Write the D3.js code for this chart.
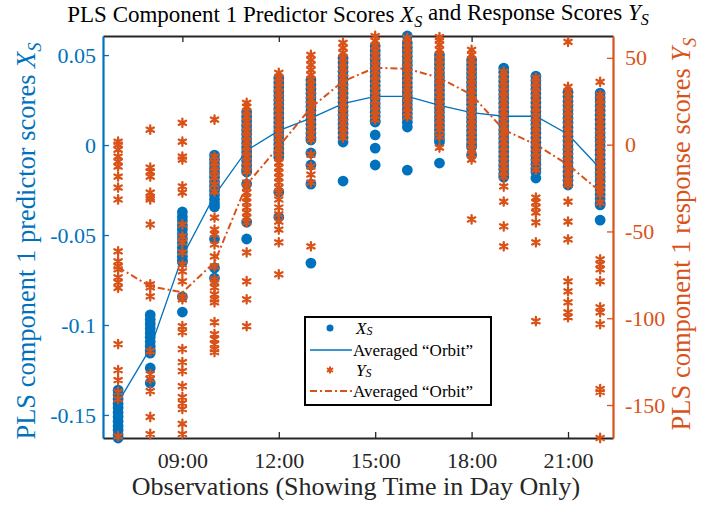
<!DOCTYPE html>
<html>
<head>
<meta charset="utf-8">
<script src="https://cdn.jsdelivr.net/npm/d3@7"></script>
<style>
  body { margin: 0; background: #fff; }
  svg { display: block; }
</style>
</head>
<body>
<svg id="chart" width="705" height="506"></svg>
<script>
// Hour of day for every group of observations
const hours = [7, 8, 9, 10, 11, 12, 13, 14, 15, 16, 17, 18, 19, 20, 21, 22];
const timeTicks = [9, 12, 15, 18, 21];
const leftTicks = [-0.15, -0.1, -0.05, 0, 0.05];
const leftTickLabels = ["-0.15", "-0.1", "-0.05", "0", "0.05"];
const rightTicks = [-150, -100, -50, 0, 50];
const rightTickLabels = ["-150", "-100", "-50", "0", "50"];

// PLS component 1 predictor scores X_S, one list per hour
const predictorScores = [
  [-0.1362, -0.1388, -0.1411, -0.1437, -0.1460, -0.1486, -0.1510, -0.1535, -0.1561, -0.1584, -0.1610, -0.1628],
  [-0.0944, -0.0970, -0.0994, -0.1019, -0.1045, -0.1068, -0.1093, -0.1118, -0.1140, -0.1156, -0.1239, -0.1322],
  [-0.0372, -0.0398, -0.0421, -0.0447, -0.0470, -0.0496, -0.0519, -0.0545, -0.0570, -0.0593, -0.0619, -0.0641, -0.0650, -0.0844, -0.0928],
  [-0.0056, -0.0081, -0.0106, -0.0130, -0.0155, -0.0179, -0.0204, -0.0229, -0.0253, -0.0278, -0.0303, -0.0327, -0.0344, -0.0522, -0.0683, -0.0739],
  [0.0183, 0.0158, 0.0133, 0.0109, 0.0084, 0.0060, 0.0035, 0.0011, -0.0014, -0.0038, -0.0063, -0.0087, -0.0112, -0.0136, -0.0150, -0.0217, -0.0428, -0.0522],
  [0.0372, 0.0347, 0.0323, 0.0298, 0.0274, 0.0249, 0.0225, 0.0200, 0.0176, 0.0151, 0.0127, 0.0102, 0.0078, 0.0053, 0.0029, 0.0004, -0.0021, -0.0045, -0.0067, -0.0261, -0.0400],
  [0.0361, 0.0337, 0.0312, 0.0288, 0.0263, 0.0239, 0.0214, 0.0190, 0.0165, 0.0141, 0.0116, 0.0092, 0.0067, 0.0043, 0.0028, -0.0044, -0.0111, -0.0217, -0.0656],
  [0.0483, 0.0459, 0.0434, 0.0410, 0.0385, 0.0361, 0.0336, 0.0312, 0.0287, 0.0263, 0.0238, 0.0214, 0.0189, 0.0165, 0.0140, 0.0116, 0.0091, 0.0067, 0.0042, 0.0017, -0.0200],
  [0.0550, 0.0525, 0.0501, 0.0476, 0.0452, 0.0427, 0.0403, 0.0378, 0.0354, 0.0329, 0.0305, 0.0280, 0.0256, 0.0231, 0.0207, 0.0182, 0.0158, 0.0133, 0.0128, 0.0056, -0.0017, -0.0111],
  [0.0606, 0.0567, 0.0542, 0.0518, 0.0493, 0.0469, 0.0444, 0.0420, 0.0395, 0.0371, 0.0346, 0.0322, 0.0297, 0.0273, 0.0248, 0.0224, 0.0199, 0.0175, 0.0150, 0.0126, 0.0100, -0.0139],
  [0.0500, 0.0476, 0.0451, 0.0427, 0.0402, 0.0378, 0.0353, 0.0329, 0.0304, 0.0280, 0.0255, 0.0231, 0.0206, 0.0182, 0.0157, 0.0133, 0.0108, 0.0084, 0.0059, 0.0035, 0.0017, -0.0100],
  [0.0472, 0.0447, 0.0423, 0.0398, 0.0374, 0.0349, 0.0325, 0.0300, 0.0276, 0.0251, 0.0227, 0.0202, 0.0178, 0.0153, 0.0129, 0.0104, 0.0080, 0.0055, 0.0031, 0.0006, -0.0011, -0.0056],
  [0.0428, 0.0404, 0.0379, 0.0355, 0.0330, 0.0306, 0.0281, 0.0257, 0.0232, 0.0208, 0.0183, 0.0159, 0.0134, 0.0110, 0.0085, 0.0061, 0.0036, 0.0012, -0.0013, -0.0037, -0.0062, -0.0086, -0.0111, -0.0135, -0.0160, -0.0178],
  [0.0383, 0.0359, 0.0334, 0.0310, 0.0285, 0.0261, 0.0236, 0.0212, 0.0187, 0.0163, 0.0138, 0.0114, 0.0089, 0.0065, 0.0040, 0.0016, -0.0009, -0.0033, -0.0058, -0.0082, -0.0107, -0.0131, -0.0150, -0.0183],
  [0.0294, 0.0270, 0.0245, 0.0221, 0.0196, 0.0172, 0.0147, 0.0123, 0.0098, 0.0074, 0.0049, 0.0025, 0.0000, -0.0024, -0.0049, -0.0073, -0.0098, -0.0122, -0.0147, -0.0171, -0.0196, -0.0222],
  [0.0289, 0.0264, 0.0240, 0.0215, 0.0191, 0.0166, 0.0142, 0.0117, 0.0093, 0.0068, 0.0044, 0.0019, -0.0005, -0.0030, -0.0054, -0.0079, -0.0103, -0.0128, -0.0152, -0.0177, -0.0201, -0.0226, -0.0250, -0.0275, -0.0299, -0.0324, -0.0333, -0.0417]
];

// PLS component 1 response scores Y_S, one list per hour
const responseScores = [
  [1.7, 0, -2.9, -6.9, -9.8, -12.6, -18.4, -24.7, -31.6, -61.5, -67.2, -70.1, -71.8, -76.4, -79.3, -82.5, -114.9, -129.9, -135.6, -142.5, -146.6, -168],
  [8.6, -13.2, -15.5, -18.4, -27.6, -30.5, -31.6, -46.0, -80.5, -82.2, -87.4, -119.0, -132.2, -135.1, -142.0, -156.9, -166.7],
  [12.6, 1.7, -6.9, -8.6, -24.1, -27.6, -46.0, -52.9, -56.3, -62.1, -69.0, -73.0, -78.7, -87.4, -89.1, -104.6, -108.0, -117.8, -125.3, -130.5, -139.1, -145.4, -148.9, -152.3, -160.9, -166.7],
  [14.4, -6.9, -10.3, -12.6, -15.5, -19.0, -23.0, -27.0, -42.0, -48.9, -51.7, -57.5, -64.4, -70.1, -77.6, -79.3, -82.2, -86.2, -89.1, -90.8, -102.3, -109.2, -112.1, -114.9, -117.8, -119.5],
  [24.1, 21.8, 19.0, 16.1, 13.2, 10.3, 7.5, 4.6, 1.7, -1.1, -4.0, -6.9, -9.8, -12.6, -15.5, -21.8, -24.7, -27.6, -30.5, -33.3, -36.2, -39.1, -42.0, -44.8, -62.1, -78.7, -89.1, -104.6],
  [41.4, 38.5, 35.6, 32.8, 29.9, 27.0, 24.1, 21.3, 18.4, 15.5, 12.6, 9.8, 6.9, 4.0, 1.1, -1.7, -4.6, -7.5, -10.3, -13.2, -16.1, -19.0, -21.8, -24.7, -27.6, -31.6, -36.2, -40.2, -44.3, -48.9, -56.3, -74.7],
  [51.7, 48.9, 46.0, 43.1, 40.2, 37.4, 34.5, 31.6, 28.7, 25.9, 23.0, 20.1, 17.2, 14.4, 11.5, 8.6, 5.7, 2.9, -5.7, -12.6, -17.2, -21.8, -58.6],
  [58.6, 55.7, 52.9, 50.0, 47.1, 44.3, 41.4, 38.5, 35.6, 32.8, 29.9, 27.0, 24.1, 21.3, 18.4, 15.5, 12.6, 9.8, 6.9, 4.0],
  [62.6, 59.8, 56.9, 54.0, 51.1, 48.3, 45.4, 42.5, 39.7, 36.8, 33.9, 31.0, 28.2, 25.3, 22.4, 19.5, 16.7, 14.4],
  [61.5, 58.6, 55.7, 52.9, 50.0, 47.1, 44.3, 41.4, 38.5, 35.6, 32.8, 29.9, 27.0, 24.1, 21.3, 18.4, 16.1],
  [62.0, 60.3, 57.5, 54.6, 51.7, 48.9, 46.0, 43.1, 40.2, 37.4, 34.5, 31.6, 28.7, 25.9, 23.0, 20.1, 17.2, 14.4, 11.5, 8.6, 4.6, -1.7],
  [54.6, 51.7, 48.9, 46.0, 43.1, 40.2, 37.4, 34.5, 31.6, 28.7, 25.9, 23.0, 20.1, 17.2, 14.4, 11.5, 8.6, 5.7, 2.9, 0, -2.9, -5.7, -8.6, -43.1],
  [42.0, 39.1, 36.2, 33.3, 30.5, 27.6, 24.7, 21.8, 19.0, 16.1, 13.2, 10.3, 7.5, 4.6, 1.7, -1.1, -4.0, -6.9, -9.8, -12.6, -15.5, -18.4, -24.1, -32.8, -47.1, -58.6],
  [38.5, 35.6, 32.8, 29.9, 27.0, 24.1, 21.3, 18.4, 15.5, 12.6, 9.8, 6.9, 4.0, 1.1, -1.7, -4.6, -7.5, -10.3, -14.4, -30.5, -33.3, -36.2, -39.1, -44.8, -56.3, -101.7],
  [59.2, 33.3, 30.5, 27.6, 24.7, 21.8, 19.0, 16.1, 13.2, 10.3, 7.5, 4.6, 1.7, -1.1, -4.0, -6.9, -9.8, -12.6, -15.5, -18.4, -21.3, -23.0, -32.8, -44.3, -54.6, -78.7, -84.5, -90.8, -96.6, -99.4],
  [36.2, 28.7, 25.9, 23.0, 20.1, 17.2, 14.4, 11.5, 8.6, 5.7, 2.9, 0, -2.9, -5.7, -8.6, -11.5, -14.4, -17.2, -20.1, -23.0, -25.9, -28.7, -33.3, -66.1, -69.0, -71.8, -78.7, -93.7, -96.6, -103.4, -140.8, -142.5, -169]
];

// Averaged "orbit" for each hour
const predictorAverage = [-0.143, -0.113, -0.062, -0.028, -0.003, 0.008, 0.015, 0.023, 0.027, 0.027, 0.022, 0.018, 0.016, 0.016, 0.006, -0.013];
const responseAverage = [-70.7, -81.6, -85.1, -67.8, -23.0, -1.1, 21.3, 36.5, 44.3, 43.7, 38.5, 28.7, 8.6, 0, -11.5, -27.0];

const BLUE = "#0072BD";
const ORANGE = "#D95319";
const INK = "#262626";
const FONT = "'Liberation Serif', 'Times New Roman', serif";

const plot = { left: 103, right: 613, top: 36, bottom: 438 };

const xsPoints = hours.flatMap((h, i) => predictorScores[i].map(v => ({ h, v })));
const ysPoints = hours.flatMap((h, i) => responseScores[i].map(v => ({ h, v })));

const x = d3.scaleLinear().domain([6.53, 22.4]).range([plot.left, plot.right]);
const yLeft = d3.scaleLinear().domain(d3.extent(xsPoints, d => d.v)).range([plot.bottom, plot.top]);
const yRight = d3.scaleLinear().domain(d3.extent(ysPoints, d => d.v)).range([plot.bottom, plot.top]);

const svg = d3.select("#chart");
svg.append("rect").attr("width", 705).attr("height", 506).attr("fill", "#fff");

// ---- axes ----
function styleAxis(g, color, width) {
  g.select(".domain").attr("stroke", color).attr("stroke-width", width);
  g.selectAll(".tick line").attr("stroke", color).attr("stroke-width", 1.3);
  g.selectAll(".tick text").attr("fill", color).style("font-family", FONT).style("font-size", "22px");
}

const hh = d3.format("02d");
svg.append("g")
  .attr("transform", `translate(0,${plot.bottom})`)
  .call(d3.axisBottom(x).tickValues(timeTicks).tickFormat(h => hh(h) + ":00")
    .tickSizeInner(-6).tickSizeOuter(0).tickPadding(14))
  .call(g => styleAxis(g, INK, 2));

svg.append("g")
  .attr("transform", `translate(0,${plot.top})`)
  .call(d3.axisTop(x).tickValues(timeTicks).tickFormat("")
    .tickSizeInner(-6).tickSizeOuter(0))
  .call(g => styleAxis(g, INK, 2));

svg.append("g")
  .attr("transform", `translate(${plot.left},0)`)
  .call(d3.axisLeft(yLeft).tickValues(leftTicks).tickFormat((d, i) => leftTickLabels[i])
    .tickSizeInner(-6).tickSizeOuter(0).tickPadding(7))
  .call(g => styleAxis(g, BLUE, 2.2));

svg.append("g")
  .attr("transform", `translate(${plot.right},0)`)
  .call(d3.axisRight(yRight).tickValues(rightTicks).tickFormat((d, i) => rightTickLabels[i])
    .tickSizeInner(-6).tickSizeOuter(0).tickPadding(12))
  .call(g => styleAxis(g, ORANGE, 2.2));

// ---- marks ----
const asterisk = {
  draw(ctx, size) {
    const r = Math.sqrt(size) / 2;
    for (let k = 0; k < 3; k++) {
      const a = Math.PI / 2 + k * Math.PI / 3;
      ctx.moveTo(r * Math.cos(a), r * Math.sin(a));
      ctx.lineTo(-r * Math.cos(a), -r * Math.sin(a));
    }
  }
};
const starPath = d3.symbol().type(asterisk).size(72)();

svg.append("g").selectAll("circle")
  .data(xsPoints).join("circle")
  .attr("cx", d => x(d.h)).attr("cy", d => yLeft(d.v))
  .attr("r", 5.4).attr("fill", BLUE);

const xsLine = d3.line().x((d, i) => x(hours[i])).y(d => yLeft(d));
svg.append("path").datum(predictorAverage)
  .attr("d", xsLine).attr("fill", "none").attr("stroke", BLUE).attr("stroke-width", 1.3);

svg.append("g").selectAll("path")
  .data(ysPoints).join("path")
  .attr("d", starPath)
  .attr("transform", d => `translate(${x(d.h)},${yRight(d.v)})`)
  .attr("fill", "none").attr("stroke", ORANGE).attr("stroke-width", 2.3).attr("stroke-linecap", "round");

const ysLine = d3.line().x((d, i) => x(hours[i])).y(d => yRight(d));
svg.append("path").datum(responseAverage)
  .attr("d", ysLine).attr("fill", "none").attr("stroke", ORANGE).attr("stroke-width", 2)
  .attr("stroke-dasharray", "7,3,2,3");

// ---- text helpers ----
function subscripted(textSel, base, sub, after, shift) {
  const s = shift || 0.3;
  textSel.append("tspan").attr("font-style", "italic").text(base);
  textSel.append("tspan").attr("font-style", "italic").attr("font-size", "70%").attr("dy", s + "em").text(sub);
  if (after) textSel.append("tspan").attr("dy", (-s) + "em").text(after);
}

// title
const title = svg.append("text")
  .attr("x", 358).attr("y", 22).attr("text-anchor", "middle")
  .style("font-family", FONT).style("font-size", "23px").attr("fill", "#000");
title.append("tspan").text("PLS Component 1 Predictor Scores ");
subscripted(title, "X", "S", " and Response Scores ");
title.append("tspan").attr("font-style", "italic").text("Y");
title.append("tspan").attr("font-style", "italic").attr("font-size", "70%").attr("dy", "0.3em").text("S");

// x label
svg.append("text")
  .attr("x", 356).attr("y", 495).attr("text-anchor", "middle")
  .style("font-family", FONT).style("font-size", "26px").attr("fill", INK)
  .text("Observations (Showing Time in Day Only)");

// y labels
const yl = svg.append("text")
  .attr("transform", "translate(35,241) rotate(-90)").attr("text-anchor", "middle")
  .style("font-family", FONT).style("font-size", "26.5px").attr("fill", BLUE);
yl.append("tspan").text("PLS component 1 predictor scores ");
subscripted(yl, "X", "S");

const yr = svg.append("text")
  .attr("transform", "translate(690,234) rotate(-90)").attr("text-anchor", "middle")
  .style("font-family", FONT).style("font-size", "26.5px").attr("fill", ORANGE);
yr.append("tspan").text("PLS component 1 response scores ");
subscripted(yr, "Y", "S");

// ---- legend ----
const legend = svg.append("g");
legend.append("rect")
  .attr("x", 305).attr("y", 317).attr("width", 186).attr("height", 88)
  .attr("fill", "#fff").attr("stroke", "#000").attr("stroke-width", 2);

const legendRows = [328, 350, 370, 391];
legend.append("circle").attr("cx", 330).attr("cy", legendRows[0]).attr("r", 3.5).attr("fill", BLUE);
legend.append("line").attr("x1", 310).attr("x2", 352).attr("y1", legendRows[1]).attr("y2", legendRows[1])
  .attr("stroke", BLUE).attr("stroke-width", 1.3);
legend.append("path").attr("d", d3.symbol().type(asterisk).size(30)())
  .attr("transform", `translate(330,${legendRows[2]})`)
  .attr("fill", "none").attr("stroke", ORANGE).attr("stroke-width", 2).attr("stroke-linecap", "round");
legend.append("line").attr("x1", 310).attr("x2", 352).attr("y1", legendRows[3]).attr("y2", legendRows[3])
  .attr("stroke", ORANGE).attr("stroke-width", 2).attr("stroke-dasharray", "7,3,2,3");

const legendTexts = [
  { sub: ["X", "S"] }, { label: "Averaged “Orbit”" },
  { sub: ["Y", "S"] }, { label: "Averaged “Orbit”" }
];
legendTexts.forEach((t, i) => {
  const el = legend.append("text")
    .attr("x", t.sub ? 356 : 353).attr("y", legendRows[i] + 5.5)
    .style("font-family", FONT).style("font-size", "17px").attr("fill", "#000");
  if (t.sub) subscripted(el, t.sub[0], t.sub[1], null, 0.15);
  else el.text(t.label);
});
</script>
</body>
</html>
